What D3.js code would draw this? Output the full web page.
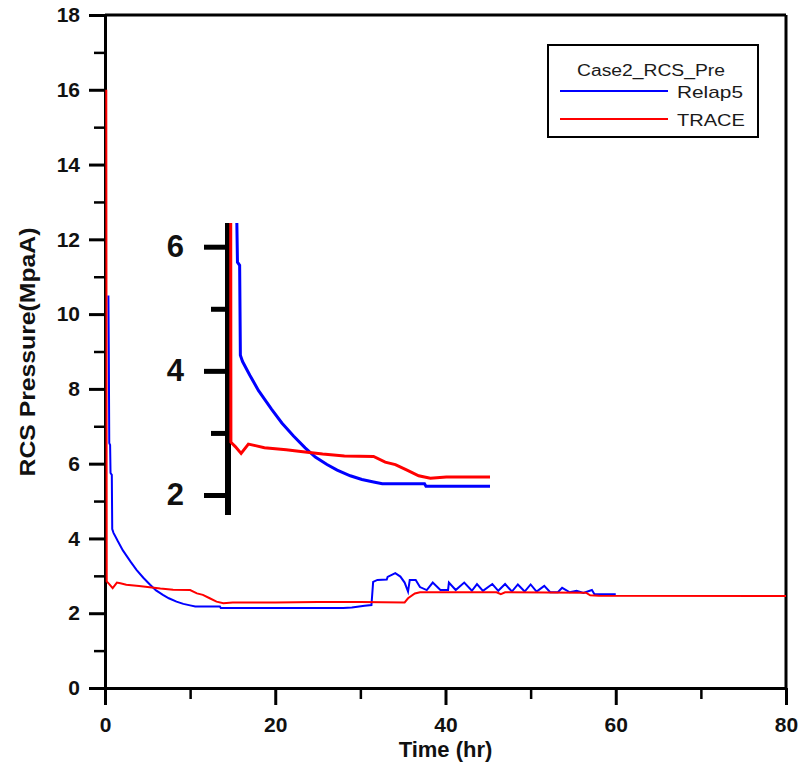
<!DOCTYPE html>
<html>
<head>
<meta charset="utf-8">
<script src="https://cdn.jsdelivr.net/npm/d3@7"></script>
<style>
  html, body { margin: 0; padding: 0; background: #fff; }
  svg { display: block; font-family: Arial, "Liberation Sans", sans-serif; }
</style>
</head>
<body>
<svg id="chart" width="802" height="773"></svg>
<script>
// ---------------- DATA ----------------
const relapTime = [0.4, 0.45, 0.5, 0.6, 0.65, 0.8, 0.85, 1.0, 1.5, 2.1, 3.0, 3.7, 4.5, 5.3, 6.0, 6.8, 7.5, 8.4, 9.2, 10.0, 10.6, 13.5, 13.6, 28, 29, 30.5, 31.3,
  31.5, 32.0, 33.1, 33.2, 34.1, 34.7, 35.2, 35.6, 35.8, 36.5, 37.0, 37.8, 38.5, 39.4, 40.3, 40.4, 41.2, 42.2, 43.1, 43.7, 44.4, 45.5, 46.2, 47.0, 47.8,
  48.5, 49.3, 50.0, 50.7, 51.6, 52.3, 53.2, 53.7, 54.6, 55.4, 56.2, 57.2, 57.5, 60.0];
const relapPressure = [10.5, 8.8, 6.55, 6.5, 5.75, 5.7, 4.25, 4.15, 3.93, 3.68, 3.38, 3.16, 2.95, 2.76, 2.61, 2.49, 2.40, 2.31, 2.25, 2.21, 2.18, 2.18, 2.14, 2.14, 2.15, 2.2, 2.22,
  2.84, 2.89, 2.9, 2.97, 3.07, 2.98, 2.82, 2.58, 2.89, 2.89, 2.7, 2.62, 2.82, 2.62, 2.62, 2.82, 2.62, 2.82, 2.6, 2.78, 2.6, 2.78, 2.6, 2.78, 2.58,
  2.77, 2.58, 2.77, 2.58, 2.73, 2.56, 2.56, 2.68, 2.56, 2.6, 2.54, 2.62, 2.51, 2.51];

const traceTime = [0.15, 0.2, 0.5, 0.9, 1.4, 1.8, 2.5, 4.0, 5.0, 6.5, 8.0, 10.0, 10.8, 11.5, 12.3, 13.1, 13.9, 15, 20, 25, 30, 35.2, 35.6, 36.4, 37,
  46, 46.5, 47, 56.5, 57, 58, 80];
const tracePressure = [16.0, 2.85, 2.78, 2.67, 2.82, 2.8, 2.76, 2.73, 2.7, 2.66, 2.63, 2.62, 2.53, 2.49, 2.4, 2.31, 2.27, 2.29, 2.29, 2.3, 2.3, 2.29, 2.4, 2.53, 2.56,
  2.56, 2.51, 2.56, 2.55, 2.48, 2.47, 2.46];

const xMajorTicks = [0, 20, 40, 60, 80];
const xMinorTicks = [10, 30, 50, 70];
const yMajorTicks = [0, 2, 4, 6, 8, 10, 12, 14, 16, 18];
const yMinorTicks = [1, 3, 5, 7, 9, 11, 13, 15, 17];
const insetMajorTicks = [2, 4, 6];
const insetMinorTicks = [3, 5];

const seriesNames = ["Relap5", "TRACE"];
const seriesColors = ["#0000ff", "#ff0000"];
const legendTitle = "Case2_RCS_Pre";
const xTitle = "Time (hr)";
const yTitle = "RCS Pressure(MpaA)";

// ---------------- CHART ----------------
const svg = d3.select("#chart");
const x = d3.scaleLinear().domain([0, 80]).range([105, 786]);
const y = d3.scaleLinear().domain([0, 18]).range([688, 15]);

const relap = relapTime.map((t, i) => [t, relapPressure[i]]);
const trace = traceTime.map((t, i) => [t, tracePressure[i]]);

function styleAxis(g, w) {
  g.selectAll("path").attr("stroke", "#000").attr("stroke-width", w);
  g.selectAll("line").attr("stroke", "#000").attr("stroke-width", w);
}

// frame top / right
svg.append("line").attr("x1", x(0)).attr("x2", x(80)).attr("y1", y(18)).attr("y2", y(18))
  .attr("stroke", "#000").attr("stroke-width", 3);
svg.append("line").attr("x1", x(80)).attr("x2", x(80)).attr("y1", y(18)).attr("y2", y(0))
  .attr("stroke", "#000").attr("stroke-width", 3);

// x axis
const gxMinor = svg.append("g").attr("transform", `translate(0,${y(0)})`)
  .call(d3.axisBottom(x).tickValues(xMinorTicks).tickSize(11).tickSizeOuter(0).tickFormat(""));
styleAxis(gxMinor, 2.5);
const gx = svg.append("g").attr("transform", `translate(0,${y(0)})`)
  .call(d3.axisBottom(x).tickValues(xMajorTicks).tickSize(17).tickSizeOuter(0).tickPadding(12).tickFormat(d3.format("d")));
styleAxis(gx, 3);
gx.selectAll("text").attr("font-size", 21).attr("font-weight", "bold").attr("fill", "#111")
  .attr("font-family", "Arial, 'Liberation Sans', sans-serif");

// y axis
const gyMinor = svg.append("g").attr("transform", `translate(${x(0)},0)`)
  .call(d3.axisLeft(y).tickValues(yMinorTicks).tickSize(11).tickSizeOuter(0).tickFormat(""));
styleAxis(gyMinor, 2.5);
const gy = svg.append("g").attr("transform", `translate(${x(0)},0)`)
  .call(d3.axisLeft(y).tickValues(yMajorTicks).tickSize(16).tickSizeOuter(0).tickPadding(9).tickFormat(d3.format("d")));
styleAxis(gy, 3);
gy.selectAll("text").attr("font-size", 21).attr("font-weight", "bold").attr("fill", "#111")
  .attr("font-family", "Arial, 'Liberation Sans', sans-serif");

// axis titles
svg.append("text").attr("x", (x(0) + x(80)) / 2).attr("y", 757).attr("text-anchor", "middle")
  .attr("font-size", 22).attr("font-weight", "bold").attr("fill", "#111").text(xTitle);
svg.append("text").attr("transform", `translate(35,352) rotate(-90)`).attr("text-anchor", "middle")
  .attr("font-size", 22).attr("font-weight", "bold").attr("fill", "#111")
  .attr("textLength", 249).attr("lengthAdjust", "spacingAndGlyphs").text(yTitle);

// lines
const line = d3.line().x(d => x(d[0])).y(d => y(d[1]));
svg.append("path").datum(relap).attr("d", line).attr("fill", "none")
  .attr("stroke", seriesColors[0]).attr("stroke-width", 2);
svg.append("path").datum(trace).attr("d", line).attr("fill", "none")
  .attr("stroke", seriesColors[1]).attr("stroke-width", 2);

// ---------------- INSET ----------------
const ix = d3.scaleLinear().domain([0, 18]).range([228, 490]);
const iy = d3.scaleLinear().domain([2, 6]).range([495, 246.7]);
const insetTop = iy.invert(223), insetBottom = iy.invert(515);

svg.append("clipPath").attr("id", "insetClip").append("rect")
  .attr("x", ix(0)).attr("y", iy(insetTop)).attr("width", ix(18) - ix(0))
  .attr("height", iy(insetBottom) - iy(insetTop));

const gi = svg.append("g");
const giMinor = gi.append("g").attr("transform", `translate(${ix(0)},0)`)
  .call(d3.axisLeft(iy).tickValues(insetMinorTicks).tickSize(17).tickSizeOuter(0).tickFormat(""));
giMinor.select("path").remove();
styleAxis(giMinor, 5);
const giMajor = gi.append("g").attr("transform", `translate(${ix(0)},0)`)
  .call(d3.axisLeft(iy).tickValues(insetMajorTicks).tickSize(24).tickSizeOuter(0).tickPadding(20).tickFormat(d3.format("d")));
giMajor.select("path").remove();
styleAxis(giMajor, 5);
giMajor.selectAll("text").attr("font-size", 31).attr("font-weight", "bold").attr("fill", "#111")
  .attr("font-family", "Arial, 'Liberation Sans', sans-serif");
gi.append("line").attr("x1", ix(0)).attr("x2", ix(0)).attr("y1", iy(insetTop)).attr("y2", iy(insetBottom))
  .attr("stroke", "#000").attr("stroke-width", 6);

const iline = d3.line().x(d => ix(d[0])).y(d => iy(d[1]));
const insetData = gi.append("g").attr("clip-path", "url(#insetClip)");
insetData.append("path").datum(relap).attr("d", iline).attr("fill", "none")
  .attr("stroke", seriesColors[0]).attr("stroke-width", 3);
insetData.append("path").datum(trace).attr("d", iline).attr("fill", "none")
  .attr("stroke", seriesColors[1]).attr("stroke-width", 3);

// ---------------- LEGEND ----------------
const lg = svg.append("g");
lg.append("rect").attr("x", 548).attr("y", 45).attr("width", 210).attr("height", 92)
  .attr("fill", "#fff").attr("stroke", "#000").attr("stroke-width", 2);
lg.append("text").attr("x", 651).attr("y", 76).attr("text-anchor", "middle").attr("font-size", 16)
  .attr("fill", "#1a1a1a").attr("textLength", 148).attr("lengthAdjust", "spacingAndGlyphs").text(legendTitle);
const legendRows = [91, 119];
const legendWidths = [66, 68];
seriesNames.forEach((name, i) => {
  lg.append("line").attr("x1", 560).attr("x2", 668).attr("y1", legendRows[i]).attr("y2", legendRows[i])
    .attr("stroke", seriesColors[i]).attr("stroke-width", 2);
  lg.append("text").attr("x", 677).attr("y", legendRows[i] + 6.5).attr("font-size", 17)
    .attr("fill", "#1a1a1a").attr("textLength", legendWidths[i]).attr("lengthAdjust", "spacingAndGlyphs").text(name);
});
</script>
</body>
</html>
